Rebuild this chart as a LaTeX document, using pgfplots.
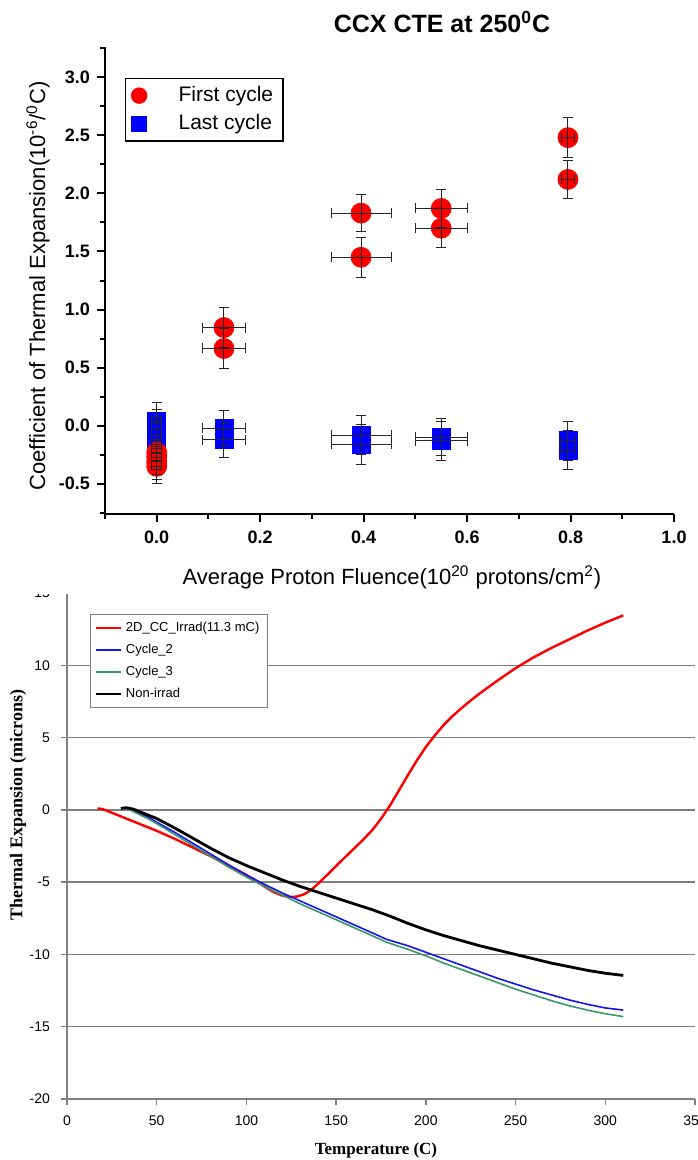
\documentclass[border=0pt]{standalone}
\usepackage{fontspec}
\setmainfont{Liberation Sans}
\newfontfamily\tnr{Liberation Serif}
\usepackage{pgfplots}
\usepackage{pgfplotstable}
\pgfplotsset{compat=1.18}

\pgfplotstableread{
x y ex ey
0 -0.23 0.01 0.15
0 -0.27 0.01 0.15
0 -0.31 0.01 0.15
0 -0.35 0.01 0.15
0.13 0.845 0.042 0.17
0.13 0.665 0.042 0.17
0.395 1.83 0.058 0.16
0.395 1.45 0.058 0.17
0.55 1.87 0.05 0.16
0.55 1.70 0.05 0.17
0.795 2.48 0.012 0.17
0.795 2.12 0.012 0.165
}\redtab

\pgfplotstableread{
x y ex ey
0 0.04 0.01 0.16
0 -0.02 0.01 0.16
0 -0.08 0.01 0.16
0 -0.14 0.01 0.16
0.13 -0.02 0.042 0.15
0.13 -0.12 0.042 0.15
0.395 -0.08 0.058 0.17
0.395 -0.16 0.058 0.17
0.55 -0.10 0.05 0.16
0.55 -0.13 0.05 0.17
0.795 -0.13 0.012 0.17
0.795 -0.21 0.012 0.17
}\bluetab

\definecolor{cgreen}{RGB}{60,150,105}
\definecolor{cblue}{RGB}{20,20,240}

\pgfplotsset{
  errbars/.style={draw=none, mark=none, forget plot,
    error bars/.cd, x dir=both, x explicit, y dir=both, y explicit,
    error bar style={draw=black!85, line width=0.5pt},
    error mark options={draw=black!85, line width=0.5pt, mark size=2.5pt, rotate=90}},
}

\begin{document}
\begin{tikzpicture}
\path[use as bounding box] (0,0) rectangle (348.5pt,-580pt);
\clip (0,0) rectangle (348.5pt,-580pt);

% ---------------- bottom panel ----------------
\begin{axis}[
  at={(33.5pt,-549.5pt)}, anchor=south west,
  scale only axis, width=314pt, height=253pt,
  xmin=0, xmax=350, ymin=-20, ymax=15,
  xtick={0,50,100,150,200,250,300,350},
  ytick={-20,-15,-10,-5,0,5,10,15},
  axis lines*=left,
  axis line style={draw=gray, line width=0.7pt},
  ymajorgrids,
  grid style={draw=gray, line width=0.7pt},
  tick style={draw=gray, line width=0.7pt},
  tick align=outside, major tick length=3pt,
  /pgf/number format/assume math mode=true,
  ticklabel style={font=\fontsize{7}{8}\selectfont},
  yticklabel style={xshift=-2pt},
  xticklabel style={yshift=-2pt},
  legend style={at={(rel axis cs:0.0366,0.958)}, anchor=north west,
    draw=gray, line width=0.6pt, fill=white,
    font=\fontsize{6.5}{8}\selectfont, inner xsep=2pt, inner ysep=1.5pt,
    row sep=0.8pt},
  legend cell align=left,
  legend image code/.code={\draw[#1, line width=1.2pt] (0pt,0pt) -- (12.5pt,0pt);},
]
\addplot[red, line width=1.2pt] coordinates {
(17,0.1)(20,0.05)(25,-0.2)(30,-0.45)(40,-0.95)(50,-1.45)(60,-2.0)(70,-2.6)
(80,-3.2)(90,-3.85)(100,-4.5)(105,-4.9)(110,-5.3)(115,-5.68)(120,-5.93)
(124,-6.03)(128,-6.0)(132,-5.85)(136,-5.55)(140,-5.1)(145,-4.5)(150,-3.88)
(155,-3.27)(160,-2.67)(165,-2.07)(170,-1.42)(175,-0.62)(180,0.3)(185,1.35)
(190,2.4)(195,3.42)(200,4.35)(205,5.15)(210,5.88)(215,6.5)(220,7.05)
(225,7.57)(230,8.05)(240,8.95)(250,9.8)(260,10.55)(270,11.2)(280,11.8)
(290,12.4)(300,12.95)(310,13.45)};
\addlegendentry{2D\_CC\_Irrad(11.3 mC)\hspace{38pt}}
\addplot[cblue, line width=0.8pt] coordinates {
(31,0.1)(35,0.05)(40,-0.2)(45,-0.5)(50,-0.85)(60,-1.55)(70,-2.3)(80,-3.05)
(90,-3.8)(100,-4.5)(110,-5.15)(120,-5.75)(130,-6.3)(140,-6.85)(150,-7.4)
(160,-7.95)(170,-8.5)(178,-8.95)(190,-9.4)(200,-9.85)(210,-10.3)(220,-10.75)
(230,-11.2)(240,-11.65)(250,-12.05)(260,-12.45)(270,-12.8)(280,-13.15)
(290,-13.45)(300,-13.7)(310,-13.85)};
\addlegendentry{Cycle\_2}
\addplot[cgreen, line width=0.8pt] coordinates {
(31,0.1)(35,0.0)(40,-0.3)(45,-0.6)(50,-0.95)(60,-1.7)(70,-2.45)(80,-3.2)
(90,-3.95)(100,-4.65)(110,-5.3)(120,-5.9)(130,-6.5)(140,-7.05)(150,-7.6)
(160,-8.15)(170,-8.7)(178,-9.15)(190,-9.65)(200,-10.1)(210,-10.6)(220,-11.05)
(230,-11.5)(240,-11.95)(250,-12.4)(260,-12.8)(270,-13.2)(280,-13.55)
(290,-13.85)(300,-14.1)(310,-14.3)};
\addlegendentry{Cycle\_3}
\addplot[black, line width=1.4pt] coordinates {
(30,0.1)(33,0.15)(37,0.05)(40,-0.1)(45,-0.35)(50,-0.6)(60,-1.25)(70,-1.95)
(80,-2.65)(90,-3.3)(100,-3.85)(110,-4.35)(120,-4.85)(130,-5.3)(140,-5.7)
(150,-6.1)(160,-6.5)(170,-6.9)(180,-7.35)(190,-7.85)(200,-8.3)(210,-8.7)
(220,-9.05)(230,-9.4)(240,-9.7)(250,-10.0)(260,-10.3)(270,-10.6)
(280,-10.85)(290,-11.1)(300,-11.3)(310,-11.45)};
\addlegendentry{Non-irrad}
\end{axis}
\node[rotate=90, font=\tnr\bfseries\fontsize{9}{10}\selectfont] at (9pt,-402.5pt) {Thermal Expansion (microns)};
\node[font=\tnr\bfseries\fontsize{8.5}{10}\selectfont] at (188pt,-575pt) {Temperature (C)};

\fill[white] (0,0) rectangle (348.5pt,-297pt);

% ---------------- top panel ----------------
\begin{axis}[
  at={(52.5pt,-257pt)}, anchor=south west,
  scale only axis, width=284.5pt, height=233.5pt,
  xmin=-0.1, xmax=1.0, ymin=-0.76, ymax=3.26,
  clip marker paths=true,
  axis lines*=left,
  axis line style={line width=1pt},
  xtick={0,0.2,0.4,0.6,0.8,1.0},
  minor xtick={-0.1,0.1,0.3,0.5,0.7,0.9},
  ytick={-0.5,0,0.5,1,1.5,2,2.5,3},
  minor ytick={-0.75,-0.25,0.25,0.75,1.25,1.75,2.25,2.75,3.25},
  tick align=outside, major tick length=4pt, minor tick length=2.5pt,
  tick style={black, line width=1pt},
  /pgf/number format/.cd, fixed, fixed zerofill, precision=1, assume math mode=true,
  /pgfplots/.cd,
  ticklabel style={font=\bfseries\fontsize{9}{10}\selectfont},
  xticklabel style={yshift=-1pt},
  legend style={at={(rel axis cs:0.035,0.934)}, anchor=north west,
    draw=black, line width=0.7pt,
    font=\fontsize{10.5}{12}\selectfont, inner xsep=3pt, inner ysep=2pt,
    row sep=1pt},
  legend cell align=left,
]
\addlegendimage{only marks, mark=*, mark size=3.75pt, red}
\addlegendentry{\hspace{14pt}First cycle}
\addlegendimage{only marks, mark=square*, mark size=3.5pt, blue}
\addlegendentry{\hspace{14pt}Last cycle\hspace{8pt}}

\addplot[only marks, mark=square*, mark size=4.5pt, blue, forget plot]
  table[x=x, y=y] \bluetab;
\addplot[only marks, mark=*, mark size=5pt, red, forget plot]
  table[x=x, y=y] \redtab;

\addplot[errbars] table[x=x, y=y, x error=ex, y error=ey] \bluetab;
\addplot[errbars] table[x=x, y=y, x error=ex, y error=ey] \redtab;
\end{axis}
\node[font=\bfseries\fontsize{12.5}{14}\selectfont] at (221pt,-11pt) {CCX CTE at 250\textsuperscript{0}C};
\node[rotate=90, font=\fontsize{11}{12}\selectfont] at (19pt,-143pt) {Coefficient of Thermal Expansion(10\textsuperscript{-6}/\textsuperscript{0}C)};
\node[font=\fontsize{11}{12}\selectfont] at (196pt,-288.5pt) {Average Proton Fluence(10\textsuperscript{20} protons/cm\textsuperscript{2})};
\end{tikzpicture}
\end{document}
